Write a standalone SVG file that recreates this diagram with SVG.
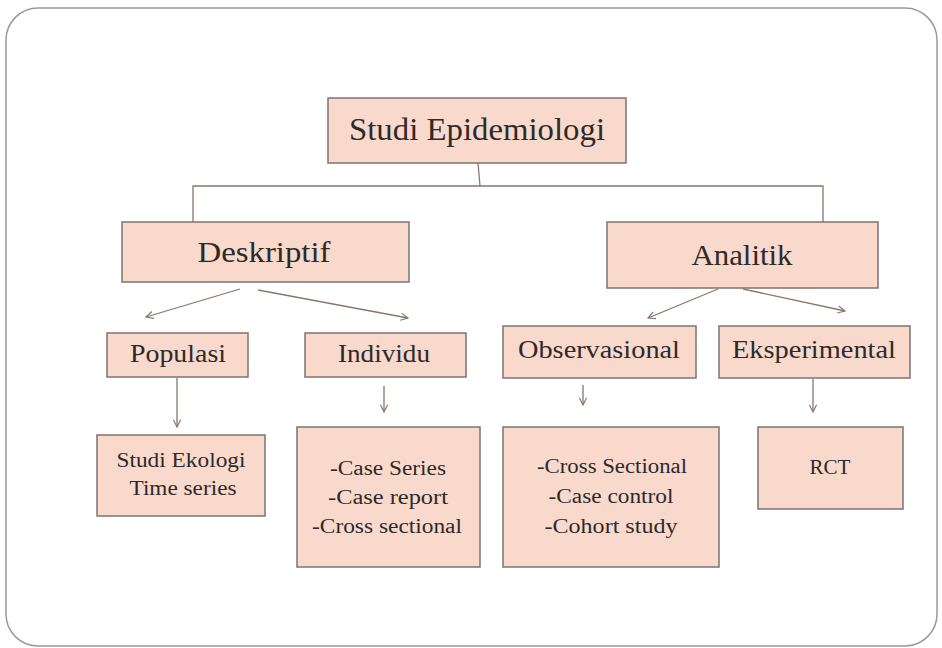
<svg xmlns="http://www.w3.org/2000/svg" width="942" height="648" viewBox="0 0 942 648">
<style>
.box{fill:#f8d9cc;stroke:#7d7370;stroke-width:1.5}
.t{font-family:"Liberation Serif",serif;fill:#2e2a29;text-anchor:middle}
.c{fill:none;stroke:#8a7670;stroke-width:1.3}
</style>
<defs>
<marker id="ah" viewBox="0 0 10 10" refX="9" refY="5" markerWidth="9" markerHeight="9" markerUnits="userSpaceOnUse" orient="auto">
<polyline points="1,1 9,5 1,9" fill="none" stroke="#8a7670" stroke-width="1.3"/>
</marker>
</defs>
<rect x="6" y="8" width="931" height="638" rx="32" fill="#fff" stroke="#9a9a9a" stroke-width="1.5"/>
<g id="connectors">
<polyline class="c" points="478,163 480,186"/>
<polyline class="c" points="193,222 193,186 823,186 823,222"/>
<line class="c" x1="240" y1="289" x2="146" y2="317" marker-end="url(#ah)"/>
<line class="c" x1="258" y1="290" x2="408" y2="318" marker-end="url(#ah)"/>
<line class="c" x1="718" y1="289" x2="648" y2="318" marker-end="url(#ah)"/>
<line class="c" x1="743" y1="289" x2="845" y2="311" marker-end="url(#ah)"/>
<line class="c" x1="177" y1="378" x2="177" y2="427" marker-end="url(#ah)"/>
<line class="c" x1="384" y1="386" x2="384" y2="412" marker-end="url(#ah)"/>
<line class="c" x1="583" y1="385" x2="583" y2="405" marker-end="url(#ah)"/>
<line class="c" x1="813" y1="379" x2="813" y2="412" marker-end="url(#ah)"/>
</g>
<g id="studi"><rect class="box" x="328" y="98" width="298" height="65"/><text class="t" x="477" y="140" font-size="32" textLength="256" lengthAdjust="spacingAndGlyphs">Studi Epidemiologi</text></g>
<g id="deskriptif"><rect class="box" x="122" y="222" width="287" height="60"/><text class="t" x="264" y="262" font-size="30" textLength="133" lengthAdjust="spacingAndGlyphs">Deskriptif</text></g>
<g id="analitik"><rect class="box" x="607" y="222" width="271" height="66"/><text class="t" x="742" y="265" font-size="30" textLength="101" lengthAdjust="spacingAndGlyphs">Analitik</text></g>
<g id="populasi"><rect class="box" x="107" y="333" width="141" height="44"/><text class="t" x="178" y="362" font-size="25" textLength="96" lengthAdjust="spacingAndGlyphs">Populasi</text></g>
<g id="individu"><rect class="box" x="305" y="333" width="161" height="44"/><text class="t" x="384" y="362" font-size="25" textLength="92" lengthAdjust="spacingAndGlyphs">Individu</text></g>
<g id="observasional"><rect class="box" x="503" y="326" width="193" height="52"/><text class="t" x="599" y="358" font-size="25" textLength="162" lengthAdjust="spacingAndGlyphs">Observasional</text></g>
<g id="eksperimental"><rect class="box" x="719" y="326" width="191" height="52"/><text class="t" x="814" y="358" font-size="25" textLength="164" lengthAdjust="spacingAndGlyphs">Eksperimental</text></g>
<g id="ekologi"><rect class="box" x="97" y="435" width="168" height="81"/><text class="t" x="181" y="467" font-size="20" textLength="129" lengthAdjust="spacingAndGlyphs">Studi Ekologi</text><text class="t" x="183" y="495" font-size="20" textLength="107" lengthAdjust="spacingAndGlyphs">Time series</text></g>
<g id="individu-list"><rect class="box" x="297" y="427" width="183" height="140"/><text class="t" x="388" y="475" font-size="20" textLength="116" lengthAdjust="spacingAndGlyphs">-Case Series</text><text class="t" x="388" y="504" font-size="20" textLength="120" lengthAdjust="spacingAndGlyphs">-Case report</text><text class="t" x="387" y="533" font-size="20" textLength="150" lengthAdjust="spacingAndGlyphs">-Cross sectional</text></g>
<g id="observasional-list"><rect class="box" x="503" y="427" width="216" height="140"/><text class="t" x="612" y="473" font-size="20" textLength="150" lengthAdjust="spacingAndGlyphs">-Cross Sectional</text><text class="t" x="611" y="503" font-size="20" textLength="125" lengthAdjust="spacingAndGlyphs">-Case control</text><text class="t" x="611" y="533" font-size="20" textLength="133" lengthAdjust="spacingAndGlyphs">-Cohort study</text></g>
<g id="rct"><rect class="box" x="758" y="427" width="145" height="82"/><text class="t" x="830" y="474" font-size="20" textLength="41" lengthAdjust="spacingAndGlyphs">RCT</text></g>
</svg>
